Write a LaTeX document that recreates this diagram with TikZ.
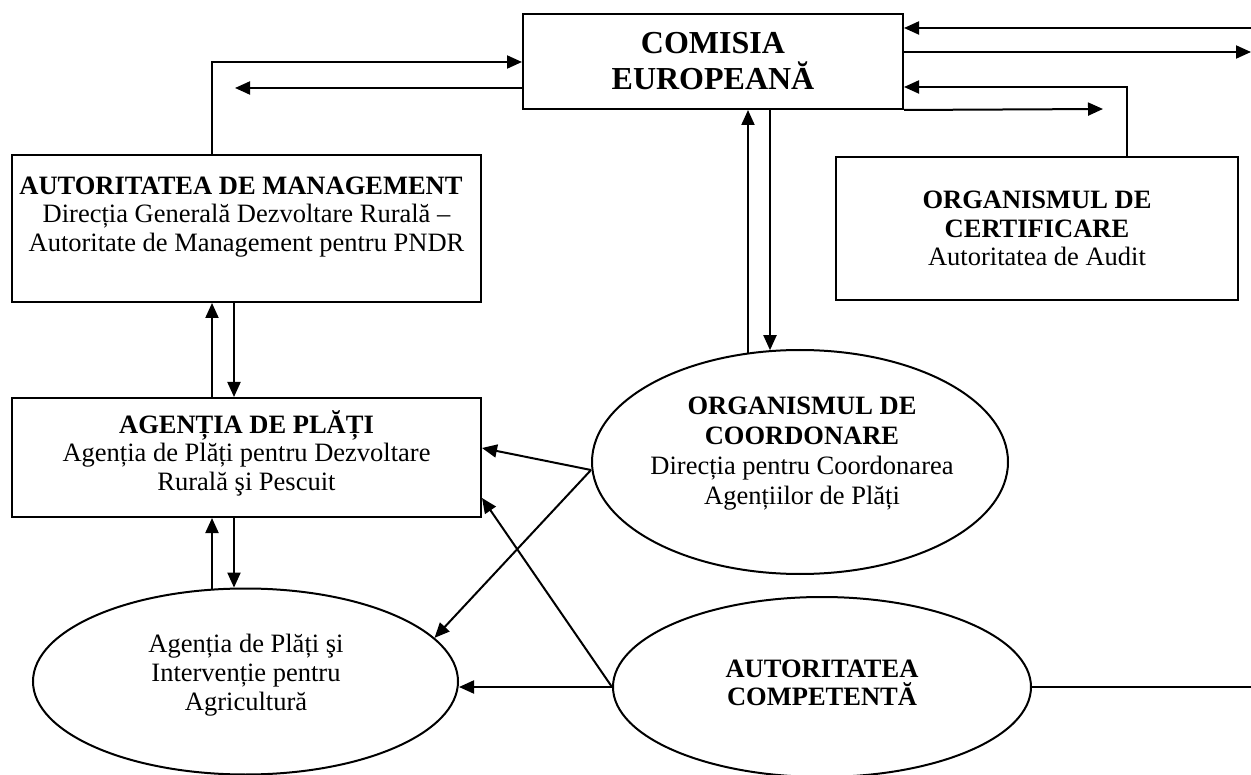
\documentclass[tikz,border=0pt]{standalone}
\usepackage{fontspec}
\setmainfont{Liberation Serif}
\usetikzlibrary{shapes.geometric,arrows.meta,calc}
\begin{document}
\begin{tikzpicture}[x=1pt,y=-1pt,
  lw/.style={line width=2pt},
  box/.style={draw,lw,rectangle,inner sep=0pt},
  ell/.style={draw,lw,ellipse,inner sep=0pt},
  arr/.style={lw,-{Triangle[length=15pt,width=13pt]}},
  con/.style={lw},
  txt/.style={align=center,inner sep=0pt,font=\fontsize{26.5}{28.5}\selectfont},
  ]
\useasboundingbox (0,0) rectangle (1251,775);

% boxes and ellipses
\node[box,txt,font=\fontsize{32}{36}\selectfont\bfseries,minimum width=380pt,minimum height=95pt] (ce) at (713,61.5) {COMISIA\\EUROPEANĂ};

\node[box,minimum width=469pt,minimum height=147pt] (am) at (246.5,228.5) {};
\node[txt] (amt) at (246.5,217) {\textbf{AUTORITATEA DE MANAGEMENT}\hspace*{11pt}\\Direcția Generală Dezvoltare Rurală –\\Autoritate de Management pentru PNDR};

\node[box,minimum width=469pt,minimum height=119pt] (ap) at (246.5,457.5) {};
\node[txt] (apt) at (246.5,453) {\textbf{AGENȚIA DE PLĂȚI}\\Agenția de Plăți pentru Dezvoltare\\Rurală şi Pescuit};

\node[box,txt,minimum width=402pt,minimum height=143pt] (oc) at (1037,228.5) {\textbf{ORGANISMUL DE}\\\textbf{CERTIFICARE}\\Autoritatea de Audit};

\node[ell,minimum width=416pt,minimum height=224pt] (oco) at (800,462) {};
\node[txt,font=\fontsize{26.5}{30}\selectfont] (ocot) at (802,454) {\textbf{ORGANISMUL DE}\\\textbf{COORDONARE}\\Direcția pentru Coordonarea\\Agențiilor de Plăți};

\node[ell,minimum width=425pt,minimum height=186pt] (apia) at (245.5,681.5) {};
\node[txt,font=\fontsize{26.5}{29}\selectfont] (apiat) at (246,675) {Agenția de Plăți şi\\Intervenție pentru\\Agricultură};

\node[ell,minimum width=418pt,minimum height=180pt] (ac) at (822,687) {};
\node[txt,font=\fontsize{26.5}{28.5}\selectfont\bfseries] (act) at (822,683) {AUTORITATEA\\COMPETENTĂ};

% free ends
\coordinate (l1) at (235,88);
\coordinate (r1) at (1251,28);
\coordinate (r2) at (1251,52);
\coordinate (r3) at (1103,109);
\coordinate (r4) at (1251,687);

% connectors
\draw[arr] ([xshift=-34.5pt]am.north) |- ([yshift=-0.5pt]ce.west);
\draw[arr] ([yshift=-26.5pt]ce.west) -- (l1);
\draw[arr] (r1) -- ([yshift=33.5pt]ce.east);
\draw[arr] ([yshift=9.5pt]ce.east) -- (r2);
\draw[arr] ([xshift=90pt]oc.north) |- ([yshift=-25.5pt]ce.east);
\draw[arr] (ce.south east) -- (r3);
\draw[arr] ([xshift=-52pt,yshift=-3.6pt]oco.north) -- ([xshift=35pt]ce.south);
\draw[arr] ([xshift=57pt]ce.south) -- ([xshift=-30pt,yshift=-1.2pt]oco.north);
\draw[arr] ([xshift=-34.5pt]ap.north) -- ([xshift=-34.5pt]am.south);
\draw[arr] ([xshift=-12.5pt]am.south) -- ([xshift=-12.5pt]ap.north);
\draw[arr] ([xshift=-33.5pt,yshift=-1.2pt]apia.north) -- ([xshift=-34.5pt]ap.south);
\draw[arr] ([xshift=-12.5pt]ap.south) -- ([xshift=-11.5pt,yshift=-0.1pt]apia.north);
\draw[arr] ([yshift=-8pt]oco.west) -- ([yshift=9.5pt]ap.east);
\draw[arr] ([yshift=-8pt]oco.west) -- (apia.13);
\draw[arr] (ac.west) -- (ac.west -| apia.east);
\draw[arr] (ac.west) -- ([yshift=20pt]ap.south east);
\draw[con] (ac.east) -- (r4);
\end{tikzpicture}
\end{document}
